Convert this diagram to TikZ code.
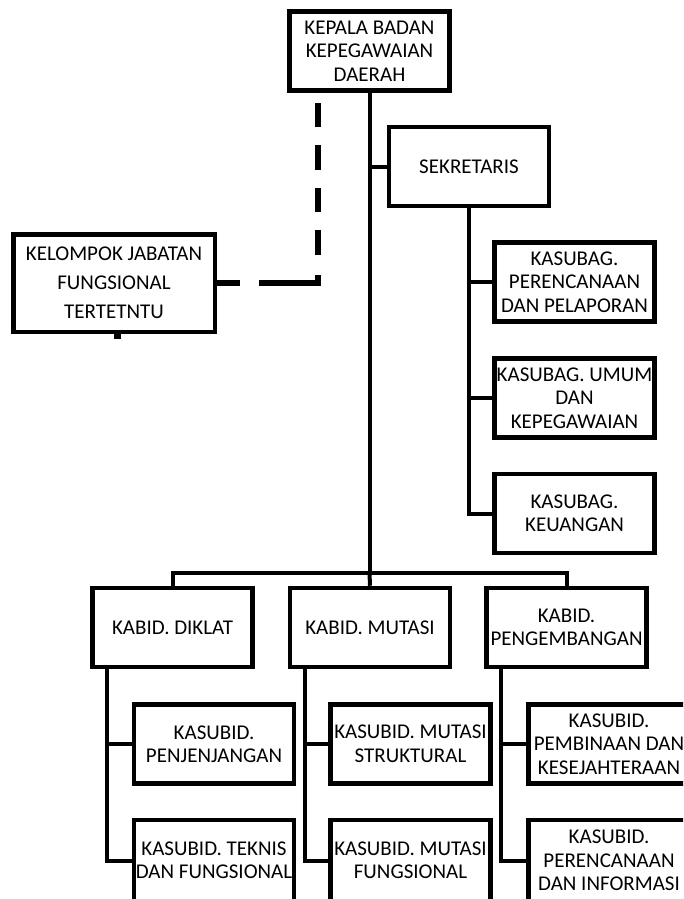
\documentclass[tikz,border=0pt]{standalone}
\usepackage{fontspec}
\setmainfont{Carlito}
\usetikzlibrary{calc}

\tikzset{
	kotak/.style={draw, line width=4.5pt, inner sep=0pt, align=center, minimum width=160pt, minimum height=79pt, font=\fontsize{21}{23.5}\selectfont},
	garis/.style={line width=4pt},
	putus/.style={line width=5.5pt, dash pattern=on 23pt off 19pt on 67pt off 20pt on 25pt off 18pt on 24pt off 18pt on 25pt off 18pt on 24pt off 18pt}
}

\begin{document}
\begin{tikzpicture}[x=1pt, y=-1pt]
			%%%%% START %%%%%
			
			\clip (0, 0) rectangle (683, 899);
			
			\node[kotak] (kepala) at (369.5, 51) {KEPALA BADAN\\KEPEGAWAIAN\\DAERAH};
			\node[kotak] (sekretaris) at (469, 166.5) {SEKRETARIS};
			\node[kotak, minimum width=201.5pt, minimum height=97.5pt, font=\fontsize{21}{29}\selectfont] (kelompok) at (114, 283) {KELOMPOK JABATAN\\FUNGSIONAL\\TERTETNTU};
			\fill ([xshift=3pt]kelompok.south) +(-3.5, -2) rectangle +(3.5, 5);
			
			\node[kotak] (rencana) at (574.5, 282) {KASUBAG.\\PERENCANAAN\\DAN PELAPORAN};
			\node[kotak] (umum) at (574.5, 398) {KASUBAG. UMUM\\DAN\\KEPEGAWAIAN};
			\node[kotak] (keuangan) at (574.5, 513.5) {KASUBAG.\\KEUANGAN};
			
			\node[kotak] (diklat) at (172.5, 627.5) {KABID. DIKLAT};
			\node[kotak] (mutasi) at (370, 627.5) {KABID. MUTASI};
			\node[kotak] (pengembangan) at (566.5, 627.5) {KABID.\\PENGEMBANGAN};
			
			\node[kotak] (penjenjangan) at (214, 744) {KASUBID.\\PENJENJANGAN};
			\node[kotak, minimum height=81pt] (teknis) at (214, 860.5) {KASUBID. TEKNIS\\DAN FUNGSIONAL};
			\node[kotak] (struktural) at (410.5, 744) {KASUBID. MUTASI\\STRUKTURAL};
			\node[kotak, minimum height=81pt] (fungsional) at (410.5, 860.5) {KASUBID. MUTASI\\FUNGSIONAL};
			\node[kotak, minimum width=161.5pt] (pembinaan) at (609, 744) {KASUBID.\\PEMBINAAN DAN\\KESEJAHTERAAN};
			\node[kotak, minimum width=161.5pt, minimum height=81pt] (informasi) at (609, 860.5) {KASUBID.\\PERENCANAAN\\DAN INFORMASI};
			
			% garis utama
			\coordinate (bar) at (369.5, 573);
			\draw[garis] (kepala.south) -- (bar);
			\draw[garis] (sekretaris.west) -- (sekretaris.west -| kepala.south);
			\draw[garis] (diklat.north) |- (bar) -| (pengembangan.north);
			\draw[garis] (bar) -- (mutasi.north);
			
			% garis putus-putus
			\coordinate (putusatas) at (318, 103);
			\draw[putus] (kelompok.east) -| (putusatas);
			
			% sekretariat
			\draw[garis] (sekretaris.south) |- (keuangan.west);
			\draw[garis] (rencana.west) -- (rencana.west -| sekretaris.south);
			\draw[garis] (umum.west) -- (umum.west -| sekretaris.south);
			
			% bidang
			\coordinate (cabang1) at ([xshift=17pt]diklat.south west);
			\draw[garis] (cabang1) |- (teknis.west);
			\draw[garis] (penjenjangan.west) -- (penjenjangan.west -| cabang1);
			
			\coordinate (cabang2) at ([xshift=17pt]mutasi.south west);
			\draw[garis] (cabang2) |- (fungsional.west);
			\draw[garis] (struktural.west) -- (struktural.west -| cabang2);
			
			\coordinate (cabang3) at ([xshift=17pt]pengembangan.south west);
			\draw[garis] (cabang3) |- (informasi.west);
			\draw[garis] (pembinaan.west) -- (pembinaan.west -| cabang3);
			
			%%%%% END %%%%%
\end{tikzpicture}
\end{document}
